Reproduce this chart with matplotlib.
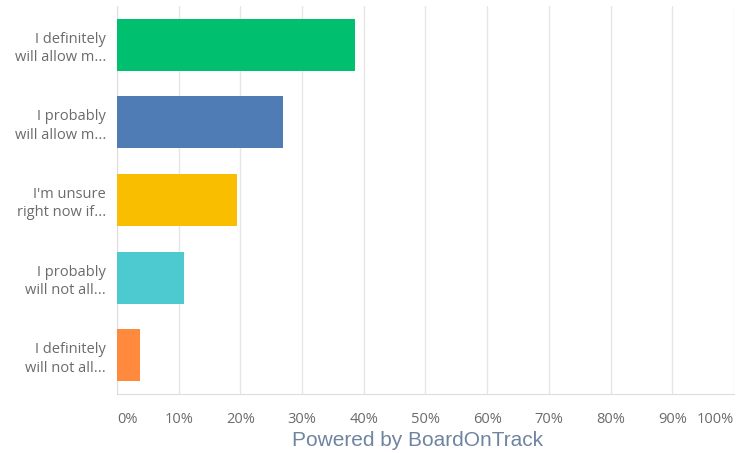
import matplotlib
matplotlib.use("Agg")
import matplotlib.pyplot as plt

# Survey answers, top to bottom
answers = [
    "I definitely\nwill allow m...",
    "I probably\nwill allow m...",
    "I'm unsure\nright now if...",
    "I probably\nwill not all...",
    "I definitely\nwill not all...",
]
shares = [38.5, 26.9, 19.4, 10.8, 3.8]   # percent of responses
colors = ["#00bf6f", "#507cb6", "#f9be00", "#4ccacf", "#ff8a3d"]
ticks = [0, 10, 20, 30, 40, 50, 60, 70, 80, 90, 100]
tick_labels = [f"{t}%" for t in ticks]

plt.rcParams["font.family"] = ["Open Sans", "DejaVu Sans"]

fig = plt.figure(figsize=(7.37, 4.53), dpi=100)
ax = fig.add_axes([117 / 737, 1 - 394 / 453, (734 - 117) / 737, (394 - 6) / 453])

ypos = list(range(len(answers)))
ax.barh(ypos, shares, height=0.67, color=colors, zorder=3)

ax.set_xlim(0, 100)
ax.set_ylim(len(answers) - 0.5, -0.5)
ax.set_yticks(ypos)
ax.set_yticklabels(answers, fontsize=10.5, color="#6b6b6b", linespacing=1.3)
ax.set_xticks(ticks)
ax.set_xticklabels(tick_labels, fontsize=10.5, color="#6b6b6b")
# keep the end labels inside the plot width
xlabels = ax.get_xticklabels()
xlabels[0].set_horizontalalignment("left")
xlabels[-1].set_horizontalalignment("right")
ax.tick_params(length=0)
ax.tick_params(axis="x", pad=13)
ax.tick_params(axis="y", pad=8)

ax.grid(axis="x", color="#e6e6e6", linewidth=1, zorder=0)
for side in ["top", "right"]:
    ax.spines[side].set_visible(False)
ax.spines["left"].set_color("#dddddd")
ax.spines["bottom"].set_color("#dddddd")

fig.text(418 / 737, 1 - 440 / 453, "Powered by BoardOnTrack", ha="center", va="center",
         fontsize=15, color="#6f84a0", family=["Liberation Sans", "DejaVu Sans"])

fig.savefig("out.png", dpi=100)
